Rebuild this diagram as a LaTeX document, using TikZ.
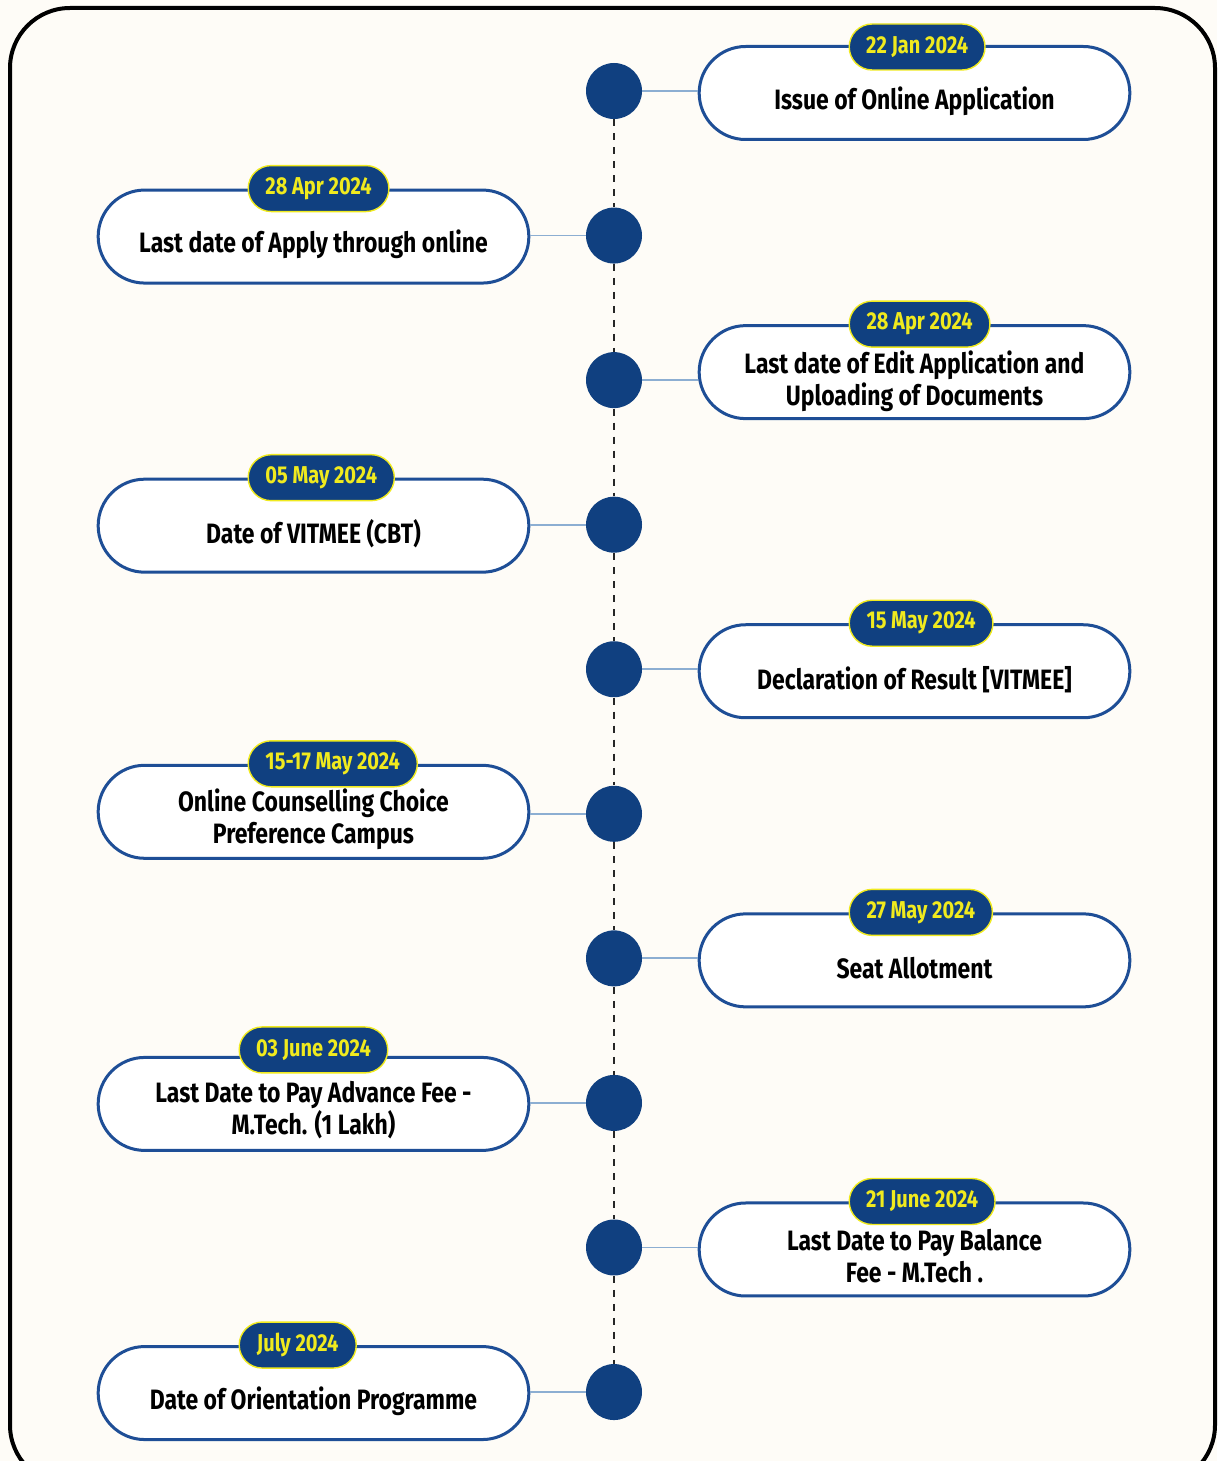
\documentclass[tikz,border=0pt]{standalone}
\usepackage{fontspec}
\setmainfont{Fira Sans}[FakeStretch=0.82]
\usepackage{tikz}
\usetikzlibrary{positioning, shapes.misc}

\definecolor{paper}{RGB}{254,252,247}
\definecolor{navy}{RGB}{16,64,128}
\definecolor{rim}{RGB}{30,78,150}
\definecolor{hilite}{RGB}{240,234,30}
\definecolor{pale}{RGB}{140,174,210}

\tikzset{
  dot/.style={circle, fill=navy, minimum size=28pt, inner sep=0pt},
  evbox/.style={rounded rectangle, draw=rim, line width=1.5pt, fill=white,
    minimum width=222pt, minimum height=46.5pt},
  evtext/.style={align=center, font=\fontsize{14}{16}\selectfont\bfseries, text=black},
  datepill/.style={rounded rectangle, anchor=west, fill=navy, draw=hilite, line width=0.7pt,
    minimum height=23pt, inner xsep=7.2pt, text=hilite, font=\fontsize{12.2}{13}\selectfont\bfseries},
  link/.style={draw=pale, line width=0.9pt},
  spine/.style={draw=black!85, line width=0.9pt, dash pattern=on 3.5pt off 3.5pt},
  toright/.style={right=150.25pt of #1, yshift=-1pt},
  toleft/.style={left=150.25pt of #1, yshift=-0.5pt}
}

\begin{document}
\begin{tikzpicture}[x=0.5pt, y=-0.5pt, node distance=72.28pt, on grid]
  \clip (0,0) rectangle (1217,1461);
  \fill[paper] (0,0) rectangle (1217,1461);
  \draw[line width=2pt, rounded corners=30pt] (10,8) rectangle (1215,1485);

  % timeline dots
  \node[dot] (d1) at (614,91) {};
  \node[dot] (d2) [below=of d1] {};
  \node[dot] (d3) [below=of d2] {};
  \node[dot] (d4) [below=of d3] {};
  \node[dot] (d5) [below=of d4] {};
  \node[dot] (d6) [below=of d5] {};
  \node[dot] (d7) [below=of d6] {};
  \node[dot] (d8) [below=of d7] {};
  \node[dot] (d9) [below=of d8] {};
  \node[dot] (d10) [below=of d9] {};

  \path[spine] (d1) -- (d2) (d2) -- (d3) (d3) -- (d4) (d4) -- (d5) (d5) -- (d6)
    (d6) -- (d7) (d7) -- (d8) (d8) -- (d9) (d9) -- (d10);

  % event boxes
  \node[evbox] (e1) [toright=d1] {};
  \node[evbox] (e2) [toleft=d2] {};
  \node[evbox] (e3) [toright=d3, yshift=5pt] {};
  \node[evbox] (e4) [toleft=d4] {};
  \node[evbox] (e5) [toright=d5] {};
  \node[evbox] (e6) [toleft=d6, yshift=1.5pt] {};
  \node[evbox] (e7) [toright=d7] {};
  \node[evbox] (e8) [toleft=d8] {};
  \node[evbox] (e9) [toright=d9] {};
  \node[evbox] (e10) [toleft=d10] {};

  \path[link] (d1.east) -- (d1.east -| e1.west)
    (d2.west) -- (d2.west -| e2.east)
    (d3.east) -- (d3.east -| e3.west)
    (d4.west) -- (d4.west -| e4.east)
    (d5.east) -- (d5.east -| e5.west)
    (d6.west) -- (d6.west -| e6.east)
    (d7.east) -- (d7.east -| e7.west)
    (d8.west) -- (d8.west -| e8.east)
    (d9.east) -- (d9.east -| e9.west)
    (d10.west) -- (d10.west -| e10.east);

  \node[evtext] (x1) at ([yshift=-4pt]e1.center) {Issue of Online Application};
  \node[evtext] (x2) at ([yshift=-4pt]e2.center) {Last date of Apply through online};
  \node[evtext] (x3) at ([yshift=-4.5pt]e3.center) {Last date of Edit Application and\\Uploading of Documents};
  \node[evtext] (x4) at ([yshift=-4pt]e4.center) {Date of VITMEE (CBT)};
  \node[evtext] (x5) at ([yshift=-4pt]e5.center) {Declaration of Result [VITMEE]};
  \node[evtext] (x6) at ([yshift=-3.5pt]e6.center) {Online Counselling Choice\\Preference Campus};
  \node[evtext] (x7) at ([yshift=-4pt]e7.center) {Seat Allotment};
  \node[evtext] (x8) at ([yshift=-3pt]e8.center) {Last Date to Pay Advance Fee -\\M.Tech. (1 Lakh)};
  \node[evtext] (x9) at ([yshift=-3.5pt]e9.center) {Last Date to Pay Balance\\Fee - M.Tech .};
  \node[evtext] (x10) at ([yshift=-4pt]e10.center) {Date of Orientation Programme};

  % date tags
  \node[datepill] (t1) at ([xshift=-33pt, yshift=-1pt]e1.north) {22 Jan 2024};
  \node[datepill] (t2) at ([xshift=-33pt]e2.north) {28 Apr 2024};
  \node[datepill] (t3) at ([xshift=-33pt]e3.north) {28 Apr 2024};
  \node[datepill] (t4) at ([xshift=-33pt]e4.north) {05 May 2024};
  \node[datepill] (t5) at ([xshift=-33pt]e5.north) {15 May 2024};
  \node[datepill] (t6) at ([xshift=-33pt]e6.north) {15-17 May 2024};
  \node[datepill] (t7) at ([xshift=-33pt]e7.north) {27 May 2024};
  \node[datepill] (t8) at ([xshift=-37.5pt, yshift=3pt]e8.north) {03 June 2024};
  \node[datepill] (t9) at ([xshift=-33pt]e9.north) {21 June 2024};
  \node[datepill] (t10) at ([xshift=-37.5pt]e10.north) {July 2024};
\end{tikzpicture}
\end{document}
